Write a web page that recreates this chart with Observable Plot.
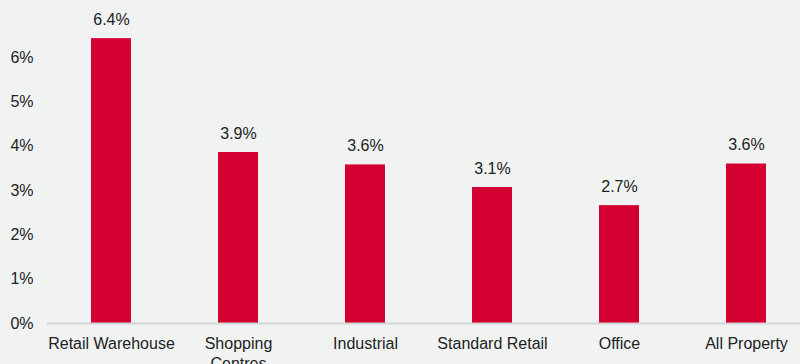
<!DOCTYPE html>
<html>
<head>
<meta charset="utf-8">
<script src="https://cdn.jsdelivr.net/npm/d3@7"></script>
<script src="https://cdn.jsdelivr.net/npm/@observablehq/plot@0.6"></script>
<style>
  html, body { margin: 0; padding: 0; background: #f0f3f2; overflow: hidden; }
  svg { display: block; }
</style>
</head>
<body>
<div id="chart"></div>
<script>
const categories = ["Retail Warehouse", "Shopping Centres", "Industrial", "Standard Retail", "Office", "All Property"];
const values = [6.43, 3.86, 3.58, 3.07, 2.66, 3.6];
const yTicks = [0, 1, 2, 3, 4, 5, 6];
const tickLabels = {"Shopping Centres": "Shopping\nCentres"};

const data = categories.map((c, i) => ({category: c, value: values[i]}));

const chart = Plot.plot({
  width: 800,
  height: 364,
  marginLeft: 47,
  marginRight: 0,
  marginTop: 12,
  marginBottom: 41,
  style: {background: "#f0f3f2", fontFamily: "Liberation Sans, Arial, sans-serif", fontSize: "16px", color: "#222"},
  x: {domain: categories, range: [47.5, 809.5], paddingInner: 0.685, paddingOuter: 0.3425, label: null},
  y: {domain: [0, 7], range: [323, 12.9], label: null},
  marks: [
    Plot.barY(data, {x: "category", y: "value", fill: "#d40032"}),
    Plot.ruleY([0], {stroke: "#d3d6d5", strokeWidth: 2}),
    Plot.text(data, {x: "category", y: "value", text: d => d.value.toFixed(1) + "%", dy: -19, fontSize: 16, fill: "#222"}),
    Plot.axisY(yTicks, {tickSize: 0, tickPadding: 14, tickFormat: d => d + "%", fontSize: 16, fill: "#222", label: null}),
    Plot.axisX({tickSize: 0, tickPadding: 11, tickFormat: d => tickLabels[d] || d, fontSize: 16, fill: "#222", lineHeight: 1.25, label: null})
  ]
});
document.getElementById("chart").append(chart);
</script>
</body>
</html>
